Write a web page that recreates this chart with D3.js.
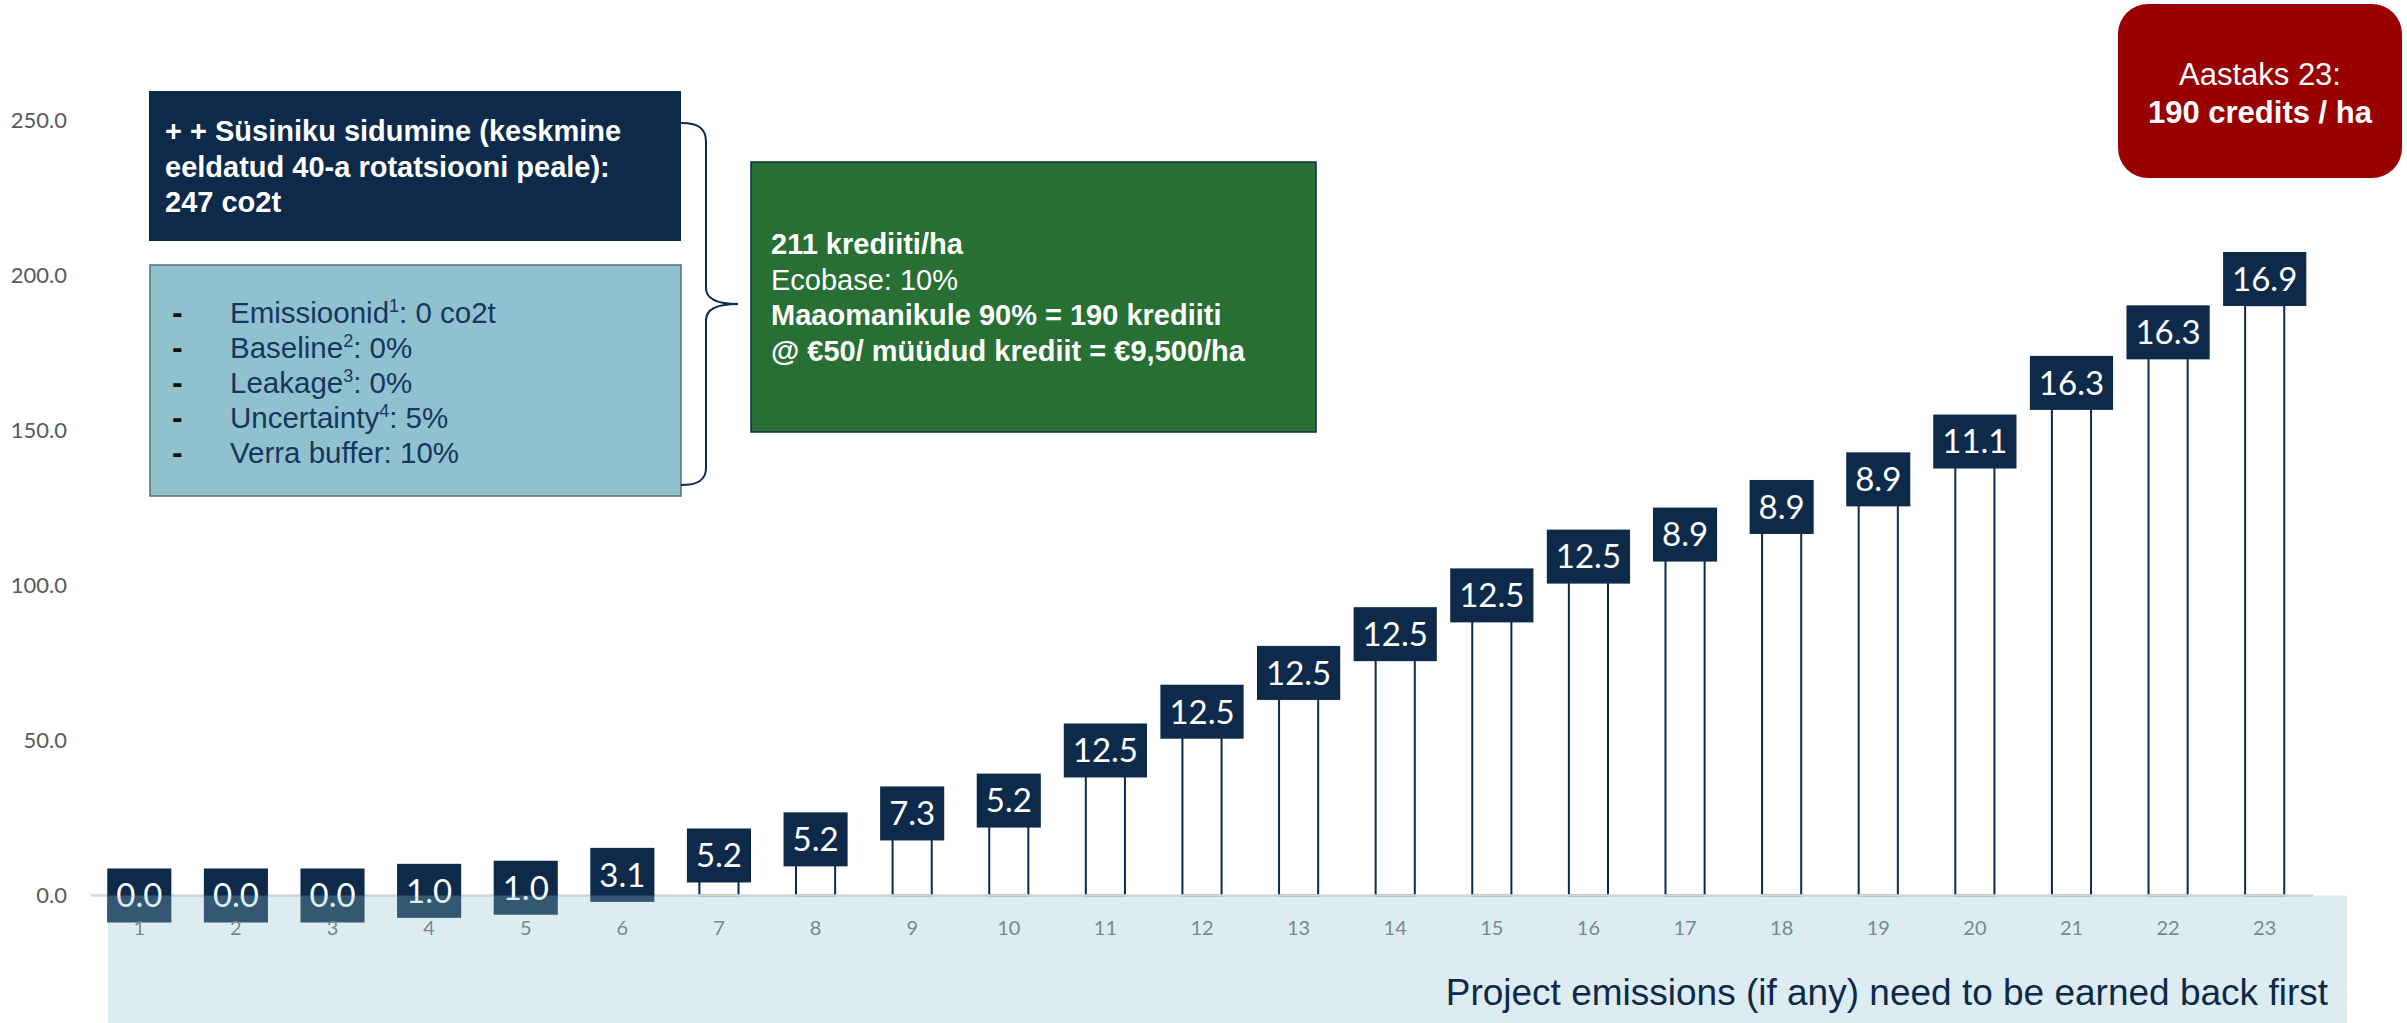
<!DOCTYPE html>
<html>
<head>
<meta charset="utf-8">
<script src="https://cdn.jsdelivr.net/npm/d3@7"></script>
<style>
  body { margin: 0; background: #fff; }
  svg { display: block; }
</style>
</head>
<body>
<script>
// chart data
const years = ["1","2","3","4","5","6","7","8","9","10","11","12","13","14","15","16","17","18","19","20","21","22","23"];
const credits = [0.0, 0.0, 0.0, 1.0, 1.0, 3.1, 5.2, 5.2, 7.3, 5.2, 12.5, 12.5, 12.5, 12.5, 12.5, 12.5, 8.9, 8.9, 8.9, 11.1, 16.3, 16.3, 16.9];
const yTicks = [0, 50, 100, 150, 200, 250];

const navy = "#0d2a4a";

let width = 2407, height = 1023;
let svg = null;
let x, y = null;
let rows = null;

buildRows();
appendSvg("body");
setupScales();
appendYAxis();
appendBars();
appendAxisLine();
appendLabels();
appendXAxis();
appendBottomBand();
appendNotes();

// base bar = running total, small navy block with the label sits on top of it
function buildRows() {
  let total = 0;
  rows = years.map(function(d, i) {
    total += credits[i];
    return { year: d, value: credits[i], base: total };
  });
}

function appendSvg(domElement) {
  svg = d3.select(domElement).append("svg")
    .attr("width", width)
    .attr("height", height);
}

function setupScales() {
  x = d3.scaleBand()
    .domain(years)
    .range([91, 2313])
    .paddingInner(0.595)
    .paddingOuter(0.2975);

  y = d3.scaleLinear()
    .domain([0, 250])
    .range([895.5, 120]);
}

function appendYAxis() {
  svg.append("g")
    .attr("transform", "translate(67,0)")
    .call(d3.axisLeft(y).tickValues(yTicks).tickFormat(d3.format(".1f")).tickSize(0).tickPadding(0))
    .call(g => g.select(".domain").remove())
    .selectAll("text")
      .attr("fill", "#595959")
      .attr("font-family", "Lato, 'Open Sans', sans-serif")
      .attr("font-size", 22);
}

function appendBars() {
  svg.append("g").selectAll("rect")
    .data(rows)
    .enter()
    .append("rect")
      .attr("x", d => x(d.year))
      .attr("width", x.bandwidth())
      .attr("y", d => y(d.base))
      .attr("height", d => y(0) - y(d.base))
      .attr("fill", "#fff")
      .attr("stroke", navy)
      .attr("stroke-width", 2);

  svg.append("g").selectAll("rect")
    .data(rows)
    .enter()
    .append("rect")
      .attr("x", d => x(d.year))
      .attr("width", x.bandwidth())
      .attr("y", d => y(d.base + d.value))
      .attr("height", d => y(d.base) - y(d.base + d.value))
      .attr("fill", navy);
}

function appendAxisLine() {
  svg.append("line")
    .attr("x1", x.range()[0])
    .attr("x2", x.range()[1])
    .attr("y1", y(0))
    .attr("y2", y(0))
    .attr("stroke", "#d9d9d9")
    .attr("stroke-width", 2.5);
}

function appendLabels() {
  const boxH = 54;
  const g = svg.append("g").selectAll("g")
    .data(rows)
    .enter()
    .append("g")
      .attr("transform", d => `translate(${x(d.year) + x.bandwidth() / 2}, ${y(d.base + d.value / 2)})`);

  const rect = g.append("rect").attr("fill", navy);

  const txt = g.append("text")
    .text(d => d3.format(".1f")(d.value))
    .attr("text-anchor", "middle")
    .attr("dy", "0.36em")
    .attr("fill", "#fff")
    .attr("font-family", "Lato, 'Open Sans', sans-serif")
    .attr("font-size", 33);

  txt.each(function() {
    const w = this.getComputedTextLength() + 18;
    d3.select(this.parentNode).select("rect")
      .attr("x", -w / 2)
      .attr("width", w)
      .attr("y", -boxH / 2)
      .attr("height", boxH);
  });
}

function appendXAxis() {
  svg.append("g")
    .attr("transform", `translate(0, ${y(0)})`)
    .call(d3.axisBottom(x).tickSize(0).tickPadding(25))
    .call(g => g.select(".domain").remove())
    .selectAll("text")
      .attr("fill", "#707070")
      .attr("font-family", "Lato, 'Open Sans', sans-serif")
      .attr("font-size", 20);
}

function appendBottomBand() {
  svg.append("rect")
    .attr("x", 108)
    .attr("y", y(0))
    .attr("width", 2347 - 108)
    .attr("height", height - y(0))
    .attr("fill", "#8fc1d0")
    .attr("opacity", 0.3);

  svg.append("text")
    .text("Project emissions (if any) need to be earned back first")
    .attr("x", 2328)
    .attr("y", 1005)
    .attr("text-anchor", "end")
    .attr("fill", navy)
    .attr("font-family", "'Liberation Sans', Arial, sans-serif")
    .attr("font-size", 37);
}

function appendNotes() {
  const font = "'Liberation Sans', Arial, sans-serif";

  // dark box
  svg.append("rect").attr("x", 149).attr("y", 91).attr("width", 532).attr("height", 150).attr("fill", navy);
  const darkLines = ["+ + Süsiniku sidumine (keskmine", "eeldatud 40-a rotatsiooni peale):", "247 co2t"];
  svg.append("g").selectAll("text")
    .data(darkLines)
    .enter()
    .append("text")
      .text(d => d)
      .attr("x", 165)
      .attr("y", (d, i) => 141 + i * 35.5)
      .attr("fill", "#fff")
      .attr("font-family", font)
      .attr("font-weight", "bold")
      .attr("font-size", 29);

  // light blue box
  svg.append("rect").attr("x", 150).attr("y", 265).attr("width", 531).attr("height", 231)
    .attr("fill", "#8fc1cf").attr("stroke", "#5f6b70").attr("stroke-width", 1.5);
  const lossLines = [
    ["Emissioonid", "1", ": 0 co2t"],
    ["Baseline", "2", ": 0%"],
    ["Leakage", "3", ": 0%"],
    ["Uncertainty", "4", ": 5%"],
    ["Verra buffer: 10%", "", ""]
  ];
  const lg = svg.append("g").selectAll("g")
    .data(lossLines)
    .enter()
    .append("g");
  lg.append("text")
    .text("-")
    .attr("x", 172)
    .attr("y", (d, i) => 323 + i * 35)
    .attr("fill", "#111")
    .attr("font-family", font)
    .attr("font-weight", "bold")
    .attr("font-size", 32);
  const lt = lg.append("text")
    .attr("x", 230)
    .attr("y", (d, i) => 323 + i * 35)
    .attr("fill", "#17375e")
    .attr("font-family", font)
    .attr("font-size", 29.5);
  lt.append("tspan").text(d => d[0]);
  lt.append("tspan").text(d => d[1]).attr("dy", d => d[1] ? -11 : 0).attr("font-size", 18);
  lt.append("tspan").text(d => d[2]).attr("dy", d => d[1] ? 11 : 0);

  // brace
  svg.append("path")
    .attr("d", "M681,123 C698,123 706,128 706,142 L706,288 C706,299 716,304 738,304 C716,304 706,309 706,320 L706,468 C706,480 698,485 681,485")
    .attr("fill", "none")
    .attr("stroke", navy)
    .attr("stroke-width", 2);

  // green box
  svg.append("rect").attr("x", 751).attr("y", 162).attr("width", 565).attr("height", 270)
    .attr("fill", "#276f32").attr("stroke", navy).attr("stroke-width", 1.5);
  const greenLines = [
    { t: "211 krediiti/ha", b: true },
    { t: "Ecobase: 10%", b: false },
    { t: "Maaomanikule 90% = 190 krediiti", b: true },
    { t: "@ €50/ müüdud krediit = €9,500/ha", b: true }
  ];
  svg.append("g").selectAll("text")
    .data(greenLines)
    .enter()
    .append("text")
      .text(d => d.t)
      .attr("x", 771)
      .attr("y", (d, i) => 254 + i * 35.5)
      .attr("fill", "#fff")
      .attr("font-family", font)
      .attr("font-weight", d => d.b ? "bold" : "normal")
      .attr("font-size", 29);

  // red box
  svg.append("rect").attr("x", 2118).attr("y", 4).attr("width", 284).attr("height", 174)
    .attr("rx", 30).attr("fill", "#990000");
  svg.append("text").text("Aastaks 23:")
    .attr("x", 2260).attr("y", 85).attr("text-anchor", "middle")
    .attr("fill", "#fff").attr("font-family", font).attr("font-size", 31);
  svg.append("text").text("190 credits / ha")
    .attr("x", 2260).attr("y", 123).attr("text-anchor", "middle")
    .attr("fill", "#fff").attr("font-family", font).attr("font-weight", "bold").attr("font-size", 31);
}
</script>
</body>
</html>
